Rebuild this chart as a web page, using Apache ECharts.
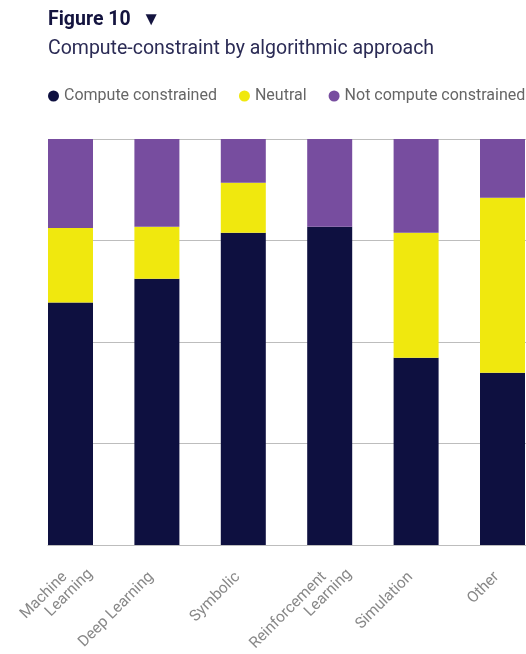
<!DOCTYPE html>
<html>
<head>
<meta charset="utf-8">
<style>
  html, body { margin: 0; padding: 0; background: #ffffff; }
  #chart { width: 526px; height: 654px; }
</style>
<script src="https://cdn.jsdelivr.net/npm/echarts@6/dist/echarts.min.js"></script>
</head>
<body>
<div id="chart"></div>
<script>
// Share of respondents (%) per algorithmic approach
const categories = ['Machine\nLearning', 'Deep Learning', 'Symbolic', 'Reinforcement\nLearning', 'Simulation', 'Other'];
const computeConstrained = [59.7, 65.6, 76.9, 78.4, 46.1, 42.4];
const neutral = [18.4, 12.8, 12.3, 0, 30.8, 43.1];
const notComputeConstrained = [21.9, 21.6, 10.8, 21.6, 23.1, 14.5];
const yTicks = [0, 25, 50, 75, 100];

const COLORS = { dark: '#0e1040', yellow: '#f0e80e', purple: '#774d9f' };
const FONT = 'Roboto, "Noto Sans", sans-serif';
const LABEL_SIZE = 15.5;
const LABEL_LH = 16;
const LABEL_COLOR = '#888888';
const END_PAD = 8;      // gap between a label's end and its tick anchor
const LINE_SHIFT = 20;  // second line of a wrapped label runs this much further

// Two-line labels: the second line sits below the first and runs past it.
const measure = document.createElement('canvas').getContext('2d');
measure.font = LABEL_SIZE + 'px ' + FONT;
const xAxisData = categories.map(function (c) {
  const lines = c.split('\n');
  if (lines.length < 2) return c;
  const w1 = measure.measureText(lines[0]).width;
  const w2 = measure.measureText(lines[1]).width;
  const contentW = Math.max(w1 + LINE_SHIFT, w2);
  return {
    value: c,
    textStyle: {
      align: 'center',
      padding: [LABEL_LH, Math.max(0, contentW - 2 * (LINE_SHIFT - END_PAD)), 0, 0]
    }
  };
});

const chart = echarts.init(document.getElementById('chart'), null, { renderer: 'canvas' });

function barSeries(name, data, color) {
  return {
    name: name,
    type: 'bar',
    stack: 'total',
    xAxisIndex: 0,
    yAxisIndex: 0,
    barWidth: 45,
    data: data,
    itemStyle: { color: color },
    emphasis: { disabled: true },
    animation: false
  };
}

const tokenBase = { fontFamily: FONT, fontSize: LABEL_SIZE, color: LABEL_COLOR, lineHeight: LABEL_LH, align: 'right' };

chart.setOption({
  backgroundColor: '#ffffff',
  animation: false,
  title: [
    {
      left: 43, top: 5,
      text: '{t|Figure 10} {a|▼}',
      textStyle: {
        rich: {
          t: { fontFamily: FONT, fontSize: 19.5, fontWeight: 'bold', color: '#14143f' },
          a: { fontFamily: FONT, fontSize: 19, color: '#14143f', padding: [0, 0, 0, 6] }
        }
      }
    },
    {
      left: 43, top: 34,
      text: 'Compute-constraint by algorithmic approach',
      textStyle: { fontFamily: FONT, fontSize: 19.5, fontWeight: 'normal', color: '#2b2b55' }
    }
  ],
  legend: {
    left: 43, top: 83, width: 520,
    icon: 'circle',
    itemWidth: 11, itemHeight: 11,
    itemGap: 22,
    padding: [5, 0, 5, 5],
    selectedMode: false,
    textStyle: { fontFamily: FONT, fontSize: 16, color: '#666666' },
    data: ['Compute constrained', 'Neutral', 'Not compute constrained']
  },
  grid: [
    { left: 27.3, right: -19.7, top: 139, bottom: 109, outerBoundsMode: 'none', containLabel: false },
    { left: 48, right: 0, top: 139, bottom: 109, outerBoundsMode: 'none', containLabel: false }
  ],
  xAxis: [
    {
      type: 'category', gridIndex: 0, data: xAxisData,
      axisLine: { show: false }, axisTick: { show: false },
      axisLabel: {
        interval: 0, rotate: 45, margin: 24,
        padding: [0, END_PAD, 0, 0],
        fontFamily: FONT, fontSize: LABEL_SIZE, color: LABEL_COLOR, lineHeight: LABEL_LH,
        formatter: function (value) {
          const lines = value.split('\n');
          if (lines.length < 2) return value;
          return '{first|' + lines[0] + '}\n{second|' + lines[1] + '}';
        },
        rich: {
          first: Object.assign({}, tokenBase, { padding: [0, LINE_SHIFT, 0, 0] }),
          second: Object.assign({}, tokenBase)
        }
      }
    },
    {
      type: 'value', gridIndex: 1, min: 0, max: 1,
      axisLine: { show: true, lineStyle: { color: '#bdbdbd', width: 1 } },
      axisTick: { show: false }, axisLabel: { show: false }, splitLine: { show: false }
    }
  ],
  yAxis: [
    { type: 'value', gridIndex: 0, min: yTicks[0], max: yTicks[yTicks.length - 1], show: false },
    {
      type: 'value', gridIndex: 1, min: yTicks[0], max: yTicks[yTicks.length - 1],
      interval: yTicks[1] - yTicks[0],
      axisLine: { show: false }, axisTick: { show: false }, axisLabel: { show: false },
      splitLine: { show: true, lineStyle: { color: '#bdbdbd', width: 1 } }
    }
  ],
  series: [
    barSeries('Compute constrained', computeConstrained, COLORS.dark),
    barSeries('Neutral', neutral, COLORS.yellow),
    barSeries('Not compute constrained', notComputeConstrained, COLORS.purple)
  ]
});
</script>
</body>
</html>
